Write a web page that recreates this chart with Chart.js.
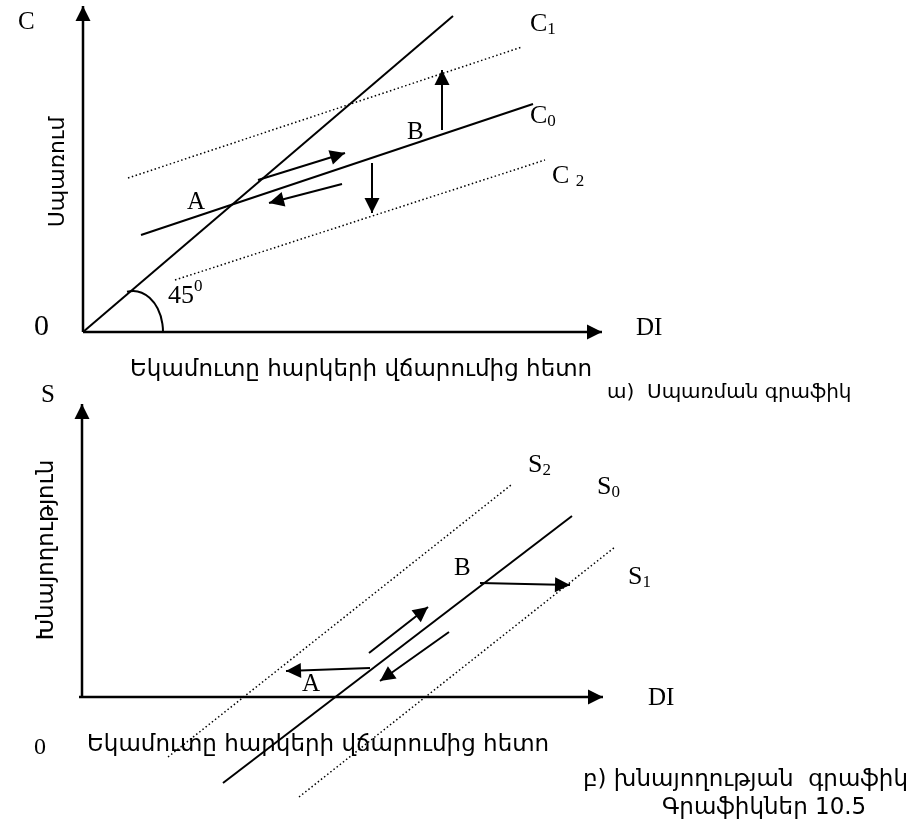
<!DOCTYPE html>
<html>
<head>
<meta charset="utf-8">
<script src="https://cdn.jsdelivr.net/npm/chart.js@4.4.1/dist/chart.umd.min.js"></script>
<style>
  body { margin: 0; background: #fff; }
  canvas { display: block; }
</style>
</head>
<body>
<canvas id="chart" width="914" height="825"></canvas>
<script>
// top panel (consumption): units measured from the origin, DI to the right, C up
const consAxisX = [{ x: 0, y: 0 }, { x: 519, y: 0 }];
const consAxisY = [{ x: 0, y: 0 }, { x: 0, y: 326 }];
const line45 = [{ x: 0, y: 0 }, { x: 370, y: 316 }];
const consC0 = [{ x: 58, y: 97 }, { x: 450, y: 228 }];
const consC1 = [{ x: 45, y: 154 }, { x: 439, y: 285 }];
const consC2 = [{ x: 92, y: 52 }, { x: 462, y: 172 }];
const consUp = [{ x: 359, y: 202 }, { x: 359, y: 262 }];
const consDown = [{ x: 289, y: 169 }, { x: 289, y: 119 }];
const consRight = [{ x: 175, y: 152 }, { x: 262, y: 179 }];
const consLeft = [{ x: 259, y: 148 }, { x: 186, y: 129 }];

// bottom panel (saving)
const saveAxisX = [{ x: -3, y: 0 }, { x: 521, y: 0 }];
const saveAxisY = [{ x: 0, y: 0 }, { x: 0, y: 293 }];
const saveS0 = [{ x: 141, y: -86 }, { x: 490, y: 181 }];
const saveS1 = [{ x: 217, y: -100 }, { x: 533, y: 150 }];
const saveS2 = [{ x: 86, y: -60 }, { x: 429, y: 212 }];
const saveRightB = [{ x: 398, y: 114 }, { x: 488, y: 112 }];
const saveUpRight = [{ x: 287, y: 44 }, { x: 346, y: 90 }];
const saveDownLeft = [{ x: 367, y: 65 }, { x: 298, y: 16 }];
const saveLeftA = [{ x: 288, y: 29 }, { x: 204, y: 26 }];

const SERIF = '"Liberation Serif", "Times New Roman", serif';
const ARM = '"DejaVu Sans", sans-serif';

function seg(data, panel, kind, arrow) {
    const ds = {
        data: data,
        xAxisID: panel === 'top' ? 'x1' : 'x2',
        yAxisID: panel === 'top' ? 'y1' : 'y2',
        showLine: true,
        borderColor: '#000',
        borderWidth: 2,
        pointRadius: 0,
        clip: false,
        arrow: arrow
    };
    if (kind === 'axis') ds.borderWidth = 2.5;
    if (kind === 'dot') { ds.borderWidth = 1.5; ds.borderDash = [1.5, 2.5]; }
    return ds;
}

const datasets = [
    seg(consAxisX, 'top', 'axis', true),
    seg(consAxisY, 'top', 'axis', true),
    seg(line45, 'top', 'solid', false),
    seg(consC0, 'top', 'solid', false),
    seg(consC1, 'top', 'dot', false),
    seg(consC2, 'top', 'dot', false),
    seg(consUp, 'top', 'solid', true),
    seg(consDown, 'top', 'solid', true),
    seg(consRight, 'top', 'solid', true),
    seg(consLeft, 'top', 'solid', true),
    seg(saveAxisX, 'bottom', 'axis', true),
    seg(saveAxisY, 'bottom', 'axis', true),
    seg(saveS0, 'bottom', 'solid', false),
    seg(saveS1, 'bottom', 'dot', false),
    seg(saveS2, 'bottom', 'dot', false),
    seg(saveRightB, 'bottom', 'solid', true),
    seg(saveUpRight, 'bottom', 'solid', true),
    seg(saveDownLeft, 'bottom', 'solid', true),
    seg(saveLeftA, 'bottom', 'solid', true)
];

// text placed in panel units
const labels = [
    { panel: 'top', x: -65, y: 310, text: 'C', font: '25px ' + SERIF },
    { panel: 'top', x: -49, y: 5, text: '0', font: '30px ' + SERIF },
    { panel: 'top', x: 553, y: 4, text: 'DI', font: '25px ' + SERIF },
    { panel: 'top', x: 85, y: 36, text: '45', font: '26px ' + SERIF, sup: '0' },
    { panel: 'top', x: 447, y: 308, text: 'C', font: '26px ' + SERIF, sub: '1' },
    { panel: 'top', x: 447, y: 216, text: 'C', font: '26px ' + SERIF, sub: '0' },
    { panel: 'top', x: 469, y: 156, text: 'C ', font: '26px ' + SERIF, sub: '2' },
    { panel: 'top', x: 104, y: 130, text: 'A', font: '25px ' + SERIF },
    { panel: 'top', x: 324, y: 200, text: 'B', font: '25px ' + SERIF },
    { panel: 'top', x: -25, y: 160, text: 'Սպառում', font: '22px ' + ARM, rotate: true },
    { panel: 'top', x: 47, y: -38, text: 'Եկամուտը հարկերի վճարումից հետո', font: '23px ' + ARM },
    { panel: 'top', x: 524, y: -61, text: 'ա)  Սպառման գրաֆիկ', font: '20px ' + ARM },
    { panel: 'bottom', x: -41, y: 302, text: 'S', font: '25px ' + SERIF },
    { panel: 'bottom', x: -48, y: -51, text: '0', font: '24px ' + SERIF },
    { panel: 'bottom', x: 566, y: -1, text: 'DI', font: '25px ' + SERIF },
    { panel: 'bottom', x: 446, y: 232, text: 'S', font: '26px ' + SERIF, sub: '2' },
    { panel: 'bottom', x: 515, y: 210, text: 'S', font: '26px ' + SERIF, sub: '0' },
    { panel: 'bottom', x: 546, y: 120, text: 'S', font: '26px ' + SERIF, sub: '1' },
    { panel: 'bottom', x: 372, y: 129, text: 'B', font: '25px ' + SERIF },
    { panel: 'bottom', x: 220, y: 13, text: 'A', font: '25px ' + SERIF },
    { panel: 'bottom', x: -35, y: 147, text: 'Խնայողություն', font: '23px ' + ARM, rotate: true },
    { panel: 'bottom', x: 5, y: -48, text: 'Եկամուտը հարկերի վճարումից հետո', font: '23px ' + ARM },
    { panel: 'bottom', x: 501, y: -83, text: 'բ) խնայողության  գրաֆիկ', font: '23px ' + ARM },
    { panel: 'bottom', x: 580, y: -111, text: 'Գրաֆիկներ 10.5', font: '23px ' + ARM }
];

function toPx(chart, panel, x, y) {
    const xs = chart.scales[panel === 'top' ? 'x1' : 'x2'];
    const ys = chart.scales[panel === 'top' ? 'y1' : 'y2'];
    return [xs.getPixelForValue(x), ys.getPixelForValue(y)];
}

const diagramPlugin = {
    id: 'diagram',
    afterDatasetsDraw(chart) {
        const ctx = chart.ctx;
        ctx.save();
        ctx.fillStyle = '#000';
        ctx.strokeStyle = '#000';

        // arrow heads on the last point of a segment
        chart.data.datasets.forEach((ds, i) => {
            if (!ds.arrow) return;
            const pts = chart.getDatasetMeta(i).data;
            const a = pts[pts.length - 2], b = pts[pts.length - 1];
            const ang = Math.atan2(b.y - a.y, b.x - a.x);
            const len = 15, half = 7.5;
            ctx.beginPath();
            ctx.moveTo(b.x, b.y);
            ctx.lineTo(b.x - len * Math.cos(ang) + half * Math.sin(ang), b.y - len * Math.sin(ang) - half * Math.cos(ang));
            ctx.lineTo(b.x - len * Math.cos(ang) - half * Math.sin(ang), b.y - len * Math.sin(ang) + half * Math.cos(ang));
            ctx.closePath();
            ctx.fill();
        });

        // 45 degree angle mark
        const c = toPx(chart, 'top', 50, 0);
        const r = toPx(chart, 'top', 80, 41);
        ctx.lineWidth = 2;
        ctx.beginPath();
        ctx.ellipse(c[0], c[1], r[0] - c[0], c[1] - r[1], 0, -Math.PI / 2 - 0.2, 0);
        ctx.stroke();

        // text
        ctx.textBaseline = 'middle';
        ctx.textAlign = 'left';
        labels.forEach(l => {
            const p = toPx(chart, l.panel, l.x, l.y);
            ctx.font = l.font;
            if (l.rotate) {
                ctx.save();
                ctx.translate(p[0], p[1]);
                ctx.rotate(-Math.PI / 2);
                ctx.textAlign = 'center';
                ctx.fillText(l.text, 0, 0);
                ctx.restore();
                return;
            }
            ctx.fillText(l.text, p[0], p[1]);
            const w = ctx.measureText(l.text).width;
            const size = parseFloat(l.font);
            if (l.sub) {
                ctx.font = Math.round(size * 0.65) + 'px ' + SERIF;
                ctx.fillText(l.sub, p[0] + w, p[1] + size * 0.22);
            }
            if (l.sup) {
                ctx.font = Math.round(size * 0.65) + 'px ' + SERIF;
                ctx.fillText(l.sup, p[0] + w, p[1] - size * 0.35);
            }
        });
        ctx.restore();
    }
};

new Chart(document.getElementById('chart'), {
    type: 'scatter',
    data: { datasets: datasets },
    options: {
        responsive: false,
        animation: false,
        events: [],
        layout: { padding: 0 },
        plugins: { legend: { display: false }, tooltip: { enabled: false } },
        scales: {
            x1: { type: 'linear', display: false, min: -83, max: 831 },
            y1: { type: 'linear', display: false, min: -493, max: 332 },
            x2: { type: 'linear', display: false, min: -82, max: 832 },
            y2: { type: 'linear', display: false, min: -128, max: 697 }
        }
    },
    plugins: [diagramPlugin]
});
</script>
</body>
</html>
